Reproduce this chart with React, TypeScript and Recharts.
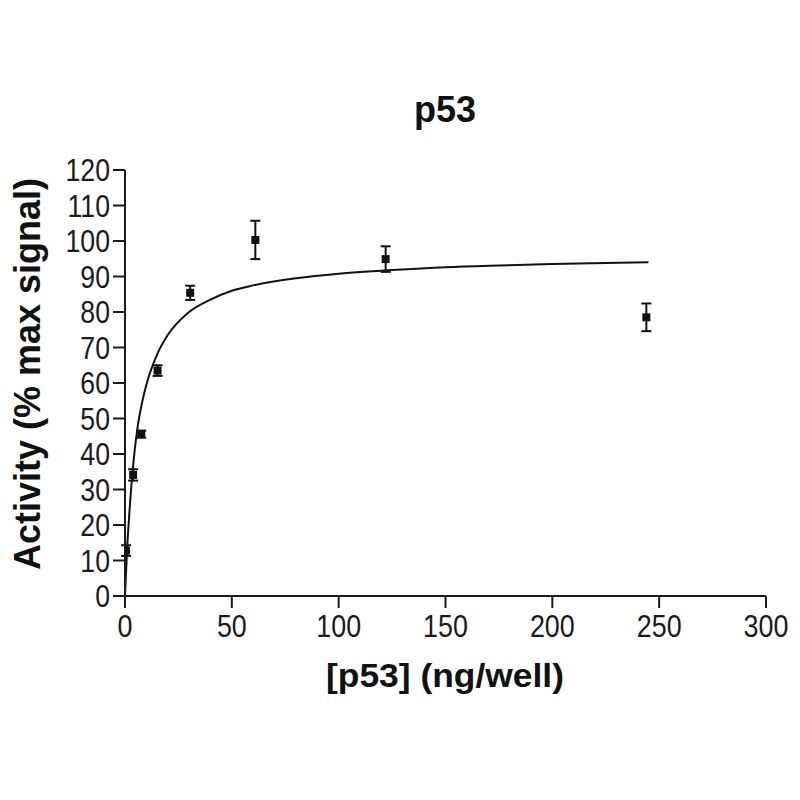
import {
  ComposedChart,
  ErrorBar,
  Line,
  Scatter,
  XAxis,
  YAxis,
} from 'recharts';

// measured points (mean ± error)
const doseX = [0.5, 3.8, 7.6, 15.25, 30.5, 61, 122, 244];
const activity = [12.8, 34.1, 45.6, 63.5, 85.4, 100.3, 94.9, 78.5];
const activityErr = [1.5, 1.6, 1.0, 1.5, 2.0, 5.4, 3.6, 3.9];

// fitted curve
const curveX = [0, 1, 2, 4, 6, 8, 10, 15, 20, 30, 40, 50, 60, 80, 100, 125, 150, 175, 200, 225, 245];
const curveY = [0, 13.5, 23, 38, 48, 54.5, 59.5, 68, 73.5, 80, 83.5, 86, 87.5, 89.5, 90.8, 91.8, 92.6, 93.1, 93.5, 93.8, 94];

const xTicks = [0, 50, 100, 150, 200, 250, 300];
const yTicks = [0, 10, 20, 30, 40, 50, 60, 70, 80, 90, 100, 110, 120];

const points = doseX.map((x, i) => ({ x, y: activity[i], err: activityErr[i] }));
const curve = curveX.map((x, i) => ({ x, y: curveY[i] }));

const labelFont = "'Liberation Sans', Arial, sans-serif";
const ink = '#111';

// narrow-looking tick labels
const XTick = (props: any) => {
  const { x, y, payload } = props;
  return (
    <g transform={`translate(${x},${y})`}>
      <text
        transform='scale(0.84,1)'
        textAnchor='middle'
        dy='0.72em'
        fontFamily={labelFont}
        fontSize={32}
        fill='#1a1a1a'
      >
        {payload.value}
      </text>
    </g>
  );
};

const YTick = (props: any) => {
  const { x, y, payload } = props;
  return (
    <g transform={`translate(${x},${y})`}>
      <text
        transform='scale(0.86,1)'
        textAnchor='end'
        dy='0.36em'
        fontFamily={labelFont}
        fontSize={31}
        fill='#1a1a1a'
      >
        {payload.value}
      </text>
    </g>
  );
};

const Square = (props: any) => {
  const { cx, cy } = props;
  if (cx == null || cy == null) return null;
  return <rect x={cx - 4} y={cy - 4} width={8} height={8} fill={ink} />;
};

export default function App() {
  return (
    <div style={{ position: 'relative', width: 784, height: 784 }}>
      <ComposedChart
        width={784}
        height={784}
        margin={{ top: 162, right: 26, bottom: 136, left: 17 }}
      >
        <XAxis
          dataKey='x'
          type='number'
          domain={[0, 300]}
          ticks={xTicks}
          height={60}
          stroke='#1a1a1a'
          strokeWidth={2}
          tickSize={12}
          tickMargin={6}
          tick={<XTick />}
          allowDataOverflow
        />
        <YAxis
          type='number'
          domain={[0, 120]}
          ticks={yTicks}
          width={100}
          stroke='#1a1a1a'
          strokeWidth={2}
          tickSize={12}
          tickMargin={3}
          tick={<YTick />}
          interval={0}
        />
        <Line
          data={curve}
          dataKey='y'
          type='monotone'
          stroke={ink}
          strokeWidth={2}
          dot={false}
          activeDot={false}
          isAnimationActive={false}
        />
        <Scatter
          data={points}
          dataKey='y'
          shape={<Square />}
          isAnimationActive={false}
        >
          <ErrorBar
            dataKey='err'
            direction='y'
            width={5}
            stroke={ink}
            strokeWidth={2}
            isAnimationActive={false}
          />
        </Scatter>
      </ComposedChart>
      <svg
        width={784}
        height={784}
        style={{ position: 'absolute', left: 0, top: 0, pointerEvents: 'none' }}
      >
        <text
          x={437}
          y={114}
          textAnchor='middle'
          fontFamily={labelFont}
          fontWeight='bold'
          fontSize={36}
          fill={ink}
        >
          p53
        </text>
        <text
          x={437}
          y={679}
          textAnchor='middle'
          fontFamily={labelFont}
          fontWeight='bold'
          fontSize={34}
          textLength={238}
          lengthAdjust='spacingAndGlyphs'
          fill={ink}
        >
          [p53] (ng/well)
        </text>
        <text
          transform='translate(32, 366) rotate(-90)'
          textAnchor='middle'
          fontFamily={labelFont}
          fontWeight='bold'
          fontSize={36}
          fill={ink}
        >
          Activity (% max signal)
        </text>
      </svg>
    </div>
  );
}
